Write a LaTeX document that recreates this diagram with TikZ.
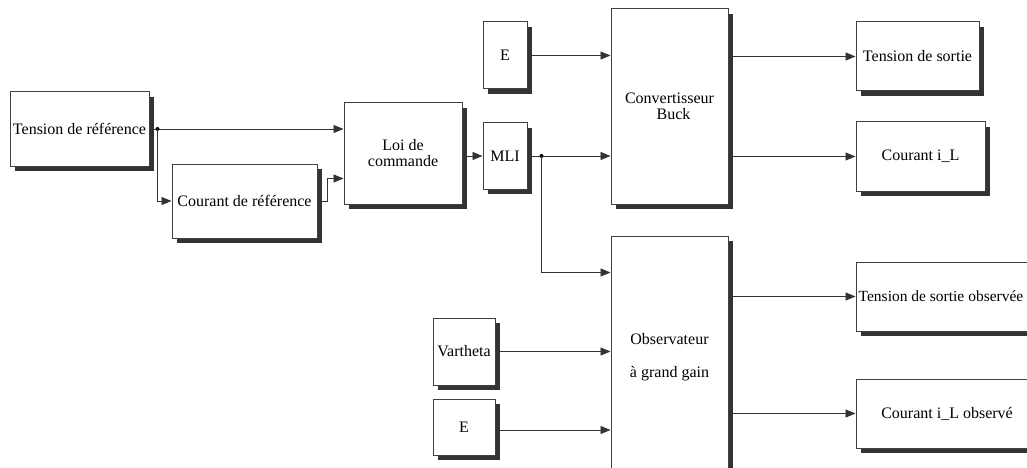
\documentclass[tikz,border=0pt]{standalone}
\usepackage{fontspec}
\setmainfont{Liberation Serif}
\usetikzlibrary{arrows.meta,shadows,calc}
\begin{document}
\begin{tikzpicture}[x=1pt,y=-1pt,
 blk/.style={draw=black!75,line width=1pt,fill=white,inner sep=0pt,align=center,
   font=\fontsize{16}{16}\selectfont,
   drop shadow={shadow xshift=5pt,shadow yshift=-5pt,fill=black!80,opacity=1}},
 wire/.style={draw=black!80,line width=0.9pt},
 arr/.style={wire,-{Triangle[length=10pt,width=8pt]}},
 jdot/.style={circle,fill=black,inner sep=0pt,minimum size=4pt}]
\useasboundingbox (0,0) rectangle (1027,468);
\clip (0,0) rectangle (1027,468);
\fill[white] (0,0) rectangle (1027,468);

\node[blk,minimum width=139pt,minimum height=74pt] (tref) at (79.5,129) {Tension de référence};
\node[blk,minimum width=145pt,minimum height=74pt] (cref) at (244.5,201) {Courant de référence};
\node[blk,minimum width=118pt,minimum height=101pt] (loi) at (403,153.5) {Loi de\\commande};
\node[blk,minimum width=44pt,minimum height=66pt] (mli) at (505,156) {MLI};
\node[blk,minimum width=44pt,minimum height=67pt] (e1) at (505,55.5) {E};
\node[blk,minimum width=117pt,minimum height=195pt] (conv) at (669.5,106.5) {Convertisseur\\\hspace*{8pt}Buck};
\node[blk,minimum width=117pt,minimum height=242pt] (obs) at (669.5,357) {Observateur\\[17pt]à grand gain};
\node[blk,minimum width=62pt,minimum height=67pt] (vart) at (464,351.5) {Vartheta};
\node[blk,minimum width=62pt,minimum height=56pt] (e2) at (464,427) {E};
\node[blk,minimum width=123pt,minimum height=69pt] (ts) at (917.5,56.5) {Tension de sortie};
\node[blk,minimum width=129pt,minimum height=69pt] (cil) at (920.5,156.5) {Courant i\_L};
\node[blk,minimum width=184pt,minimum height=69pt,font=\fontsize{15.5}{16}\selectfont] (tso) at (948,296.5) {\hspace*{-14pt}Tension de sortie observée};
\node[blk,minimum width=182pt,minimum height=69pt] (cio) at (947,413.5) {Courant i\_L observé};

% connectors
\draw[arr] (tref.east) -- (tref.east -| loi.west);
\coordinate (j1) at ($(tref.east)+(8,0)$);
\node[jdot] (d1) at (j1) {};
\draw[arr] (j1) |- (cref.west);
\coordinate (k) at ($(cref.east)+(10,0)$);
\coordinate (l2) at ([yshift=-25pt]loi.west);
\draw[arr] (cref.east) -- (k) |- (l2);
\draw[arr] (loi.east |- mli.west) -- (mli.west);
\draw[arr] (mli.east) -- (mli.east -| conv.west);
\coordinate (j2) at ($(mli.east)+(14,0)$);
\node[jdot] (d2) at (j2) {};
\coordinate (o1) at ([yshift=-37pt]obs.north west);
\draw[arr] (j2) |- (o1);
\draw[arr] (e1.east) -- (e1.east -| conv.west);
\draw[arr] (vart.east) -- (vart.east -| obs.west);
\draw[arr] ([yshift=-3pt]e2.east) -- ([yshift=-3pt]e2.east -| obs.west);
\draw[arr] (conv.east |- ts.west) -- (ts.west);
\draw[arr] (conv.east |- cil.west) -- (cil.west);
\draw[arr] (obs.east |- tso.west) -- (tso.west);
\draw[arr] (obs.east |- cio.west) -- (cio.west);
\end{tikzpicture}
\end{document}
